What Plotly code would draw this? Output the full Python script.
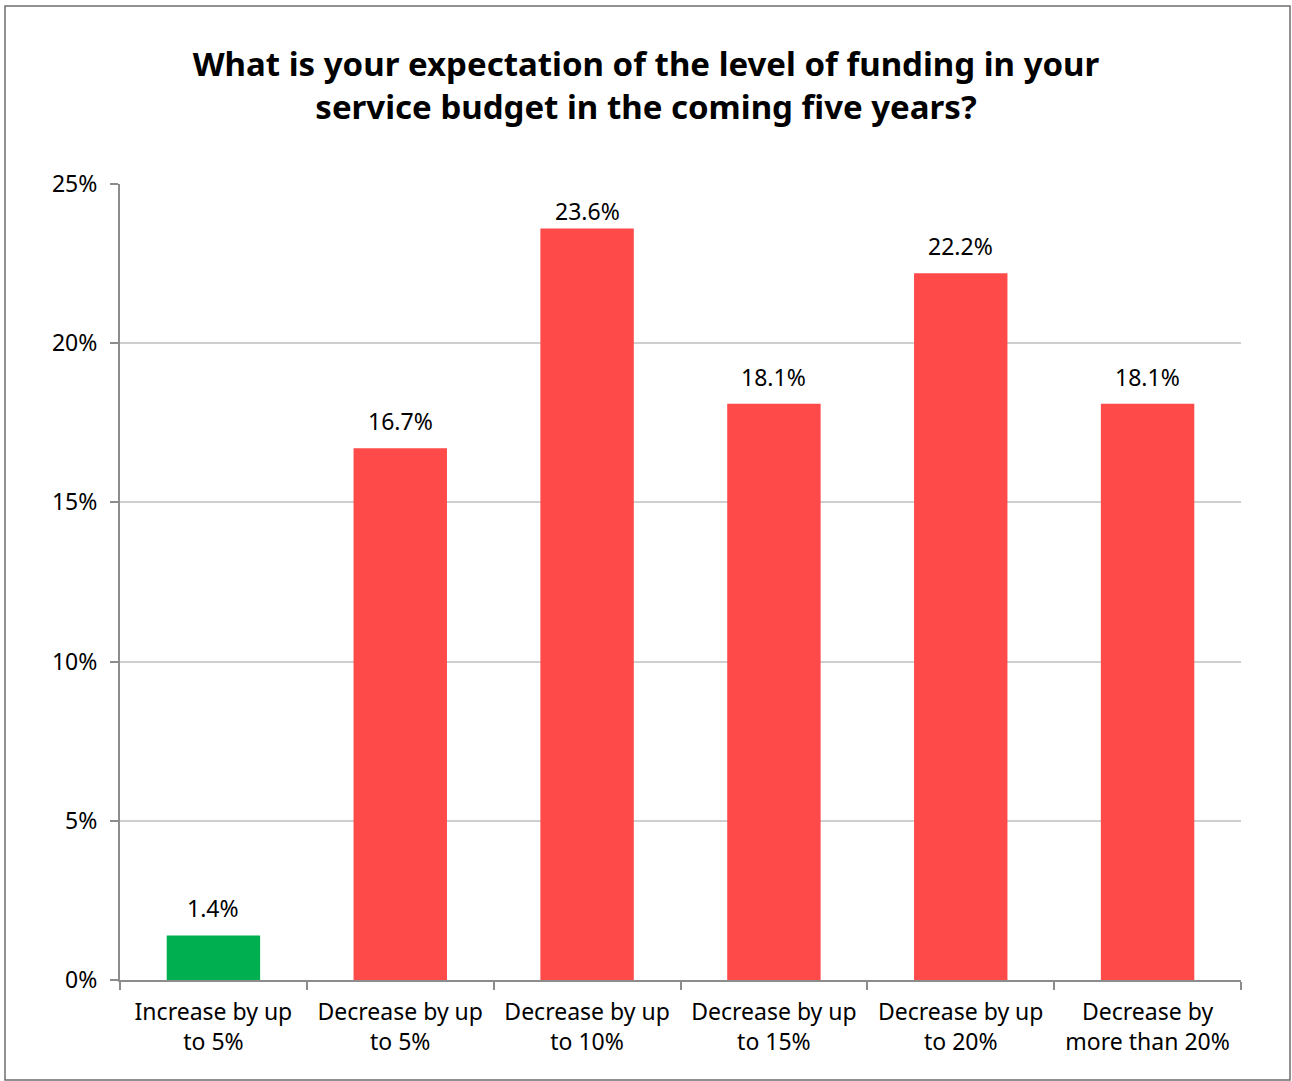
import plotly.graph_objects as go

categories = [
    "Increase by up<br>to 5%",
    "Decrease by up<br>to 5%",
    "Decrease by up<br>to 10%",
    "Decrease by up<br>to 15%",
    "Decrease by up<br>to 20%",
    "Decrease by<br>more than 20%",
]
values = [1.4, 16.7, 23.6, 18.1, 22.2, 18.1]
bar_colors = ["#00B050", "#FF4A4A", "#FF4A4A", "#FF4A4A", "#FF4A4A", "#FF4A4A"]
y_ticks = [0, 5, 10, 15, 20, 25]
y_tick_labels = ["0%", "5%", "10%", "15%", "20%", "25%"]

W, H = 1292, 1081
L, R, T, B = 120, 51, 184, 101
FONT = "Noto Sans"
Y_MAX = 25

pw, ph = W - L - R, H - T - B
px_per_unit = ph / Y_MAX
LABEL_GAP = 27  # distance from bar top to label centre, in px
TOP_PAD = 27    # label centre stays at least this far below the plot top

fig = go.Figure(
    go.Bar(
        x=categories,
        y=values,
        marker=dict(color=bar_colors, line=dict(width=0)),
        width=0.5,
    )
)

# value labels above bars, kept inside the plot area near the top
for cat, v in zip(categories, values):
    room = (Y_MAX - v) * px_per_unit - TOP_PAD
    fig.add_annotation(
        x=cat,
        y=v,
        text=f"{v:.1f}%",
        showarrow=False,
        yanchor="middle",
        yshift=min(LABEL_GAP, room),
        font=dict(family=FONT, size=23, color="#000000"),
    )

fig.update_layout(
    width=W,
    height=H,
    margin=dict(l=L, r=R, t=T, b=B),
    paper_bgcolor="white",
    plot_bgcolor="white",
    showlegend=False,
    title=dict(
        text="<b>What is your expectation of the level of funding in your<br>service budget in the coming five years?</b>",
        x=0.5,
        xanchor="center",
        y=1 - 76 / H,
        yanchor="middle",
        font=dict(family=FONT, size=33, color="#000000"),
    ),
    xaxis=dict(
        type="category",
        tickson="boundaries",
        ticks="outside",
        ticklen=8,
        tickcolor="#8C8C8C",
        tickwidth=2,
        showline=True,
        linecolor="#8C8C8C",
        linewidth=2,
        showgrid=False,
        ticklabelstandoff=10,
        tickfont=dict(family=FONT, size=23, color="#000000"),
    ),
    yaxis=dict(
        range=[0, Y_MAX],
        tickvals=y_ticks,
        ticktext=y_tick_labels,
        ticks="outside",
        ticklen=8,
        tickcolor="#8C8C8C",
        tickwidth=2,
        showline=True,
        linecolor="#8C8C8C",
        linewidth=2,
        showgrid=True,
        gridcolor="#CFCFCF",
        gridwidth=2,
        zeroline=False,
        ticklabelstandoff=8,
        tickfont=dict(family=FONT, size=23, color="#000000"),
    ),
    shapes=[
        dict(
            type="rect",
            xref="paper",
            yref="paper",
            x0=(5 - L) / pw,
            x1=(1290 - L) / pw,
            y0=(H - B - 1080) / ph,
            y1=(H - B - 6) / ph,
            line=dict(color="#6E6E6E", width=1.5),
            fillcolor="rgba(0,0,0,0)",
            layer="below",
        )
    ],
)

fig.write_html("out.html")
